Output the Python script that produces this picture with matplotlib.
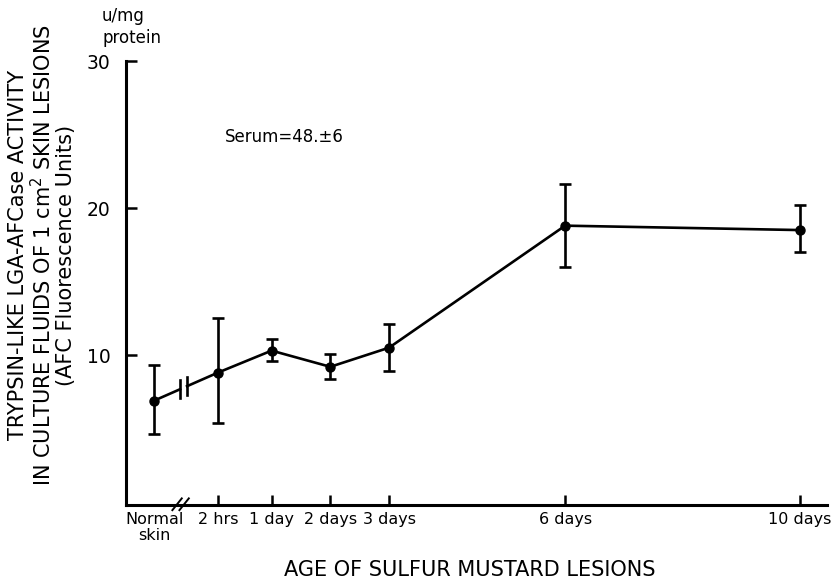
import matplotlib
matplotlib.use("Agg")
import matplotlib.pyplot as plt

# ages in days (normal skin placed left of the axis break)
ages = [-1.0, 2 / 24, 1, 2, 3, 6, 10]
tick_labels = ["Normal\nskin", "2 hrs", "1 day", "2 days", "3 days", "6 days", "10 days"]
activity = [6.9, 8.8, 10.3, 9.2, 10.5, 18.8, 18.5]
err_low = [4.6, 5.4, 9.6, 8.4, 8.9, 16.0, 17.0]
err_high = [9.3, 12.5, 11.1, 10.1, 12.1, 21.6, 20.2]
y_ticks = [10, 20, 30]

plt.rcParams["font.family"] = ["DejaVu Sans"]

fig = plt.figure(figsize=(8.36, 5.86), dpi=100)
ax = fig.add_axes([126 / 836, 1 - 505 / 586, (827 - 126) / 836, (505 - 61) / 586])

lw = 1.9
yerr = [[a - lo for a, lo in zip(activity, err_low)],
        [hi - a for a, hi in zip(activity, err_high)]]
ax.errorbar(ages, activity, yerr=yerr, fmt="none", ecolor="black",
            elinewidth=lw, capsize=4.5, capthick=lw)

# connecting line, with a gap between normal skin and 2 hrs
gap = (-0.56, -0.44)
frac = [(g - ages[0]) / (ages[1] - ages[0]) for g in gap]
y_gap = [activity[0] + f * (activity[1] - activity[0]) for f in frac]
ax.plot([ages[0], gap[0]], [activity[0], y_gap[0]], color="black", lw=lw)
ax.plot([gap[1]] + ages[1:], [y_gap[1]] + activity[1:], color="black", lw=lw)
for g, yg in zip(gap, y_gap):
    ax.plot([g, g], [yg - 0.6, yg + 0.6], color="black", lw=lw)
ax.plot(ages, activity, "o", color="black", ms=6.5)

ax.set_xlim(-1.48, 10.46)
ax.set_ylim(-0.2, 30)
ax.spines["top"].set_visible(False)
ax.spines["right"].set_visible(False)
ax.spines["left"].set_linewidth(2.2)
ax.spines["bottom"].set_linewidth(2.2)

ax.set_yticks(y_ticks)
ax.set_yticklabels([str(t) for t in y_ticks], fontsize=13.5)
ax.tick_params(axis="y", direction="in", length=8, width=1.8, pad=11)

ax.set_xticks(ages)
ax.set_xticklabels(tick_labels, fontsize=11.5, linespacing=1.1, va="top")
ax.tick_params(axis="x", direction="in", length=7, width=1.8, pad=5)
ax.xaxis.get_major_ticks()[0].tick1line.set_visible(False)

# axis break marks
for dx in (-0.06, 0.06):
    ax.plot([-0.55 + dx - 0.08, -0.55 + dx + 0.08], [-0.55, 0.25], color="black",
            lw=1.4, clip_on=False)

ax.text(0.2, 24.8, "Serum=48.\u00b16", fontsize=12, ha="left", va="center")
fig.text(102 / 836, 1 - 27 / 586, "u/mg\nprotein", fontsize=12, ha="left",
         va="center", linespacing=1.3)

fig.text(42 / 836, 1 - 255 / 586,
         "TRYPSIN-LIKE LGA-AFCase ACTIVITY\nIN CULTURE FLUIDS OF 1 cm$^2$ SKIN LESIONS\n(AFC Fluorescence Units)",
         rotation=90, ha="center", va="center", fontsize=15, linespacing=1.05,
         multialignment="center")
fig.text(470 / 836, 1 - 570 / 586, "AGE OF SULFUR MUSTARD LESIONS", fontsize=15,
         ha="center", va="center")

fig.savefig("out.png", dpi=100)
